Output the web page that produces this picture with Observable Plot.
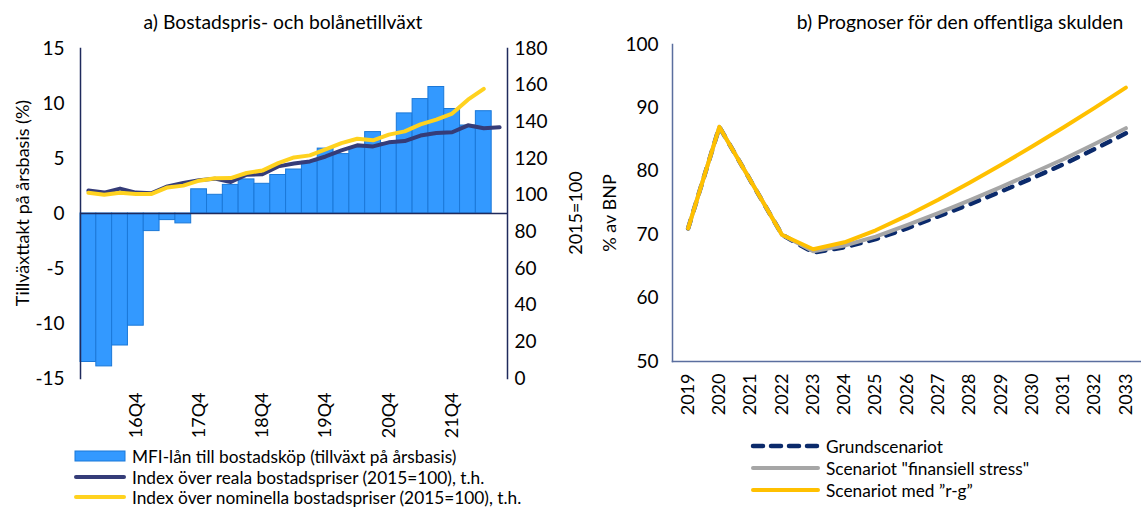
<!DOCTYPE html>
<html>
<head>
<meta charset="utf-8">
<script src="https://cdn.jsdelivr.net/npm/d3@7"></script>
<script src="https://cdn.jsdelivr.net/npm/@observablehq/plot@0.6"></script>
<style>
  html, body { margin: 0; padding: 0; background: #fff; }
  #root { position: relative; width: 1141px; height: 510px; overflow: hidden; font-family: Lato, "Open Sans", sans-serif; color: #000; }
  .title { font-size: 19.3px; white-space: nowrap; line-height: 24px; }
  .rot { position: absolute; white-space: nowrap; transform: translate(-50%, -50%) rotate(-90deg); font-size: 18px; }
  .leg { position: absolute; font-size: 17.3px; white-space: nowrap; display: flex; align-items: center; height: 21px; }
  .leg svg { margin-right: 6px; }
  svg text { font-family: Lato, "Open Sans", sans-serif; }
</style>
</head>
<body>
<div id="root"></div>
<script>
// ---------- Data: panel a ----------
const quarters = ["16Q1","16Q2","16Q3","16Q4","17Q1","17Q2","17Q3","17Q4","18Q1","18Q2","18Q3","18Q4",
  "19Q1","19Q2","19Q3","19Q4","20Q1","20Q2","20Q3","20Q4","21Q1","21Q2","21Q3","21Q4","22Q1","22Q2","22Q3"];
const mfiLoans = [-13.5,-13.9,-12.0,-10.2,-1.6,-0.6,-0.9,2.2,1.7,2.6,3.1,2.7,3.5,4.0,4.7,5.9,5.4,6.0,7.4,6.4,9.1,10.4,11.5,9.5,8.0,9.3,null];
const realIndex = [102.5,101.4,103.6,101.4,101.1,104.8,106.7,108.2,109.0,107.2,111.2,111.4,115.7,117.3,118.4,121.1,124.4,127.2,126.6,128.8,129.5,132.5,133.9,134.3,138.1,136.5,137.0];
const nominalIndex = [101.3,100.2,101.3,100.7,100.7,104.2,105.2,107.9,109.2,109.3,112.1,113.4,117.5,120.6,121.7,125.0,128.4,130.8,129.9,133.0,134.8,138.6,141.2,144.5,152.1,158.0,null];
const leftTicks = [-15,-10,-5,0,5,10,15];
const rightTicks = [0,20,40,60,80,100,120,140,160,180];
const labeledQuarters = ["16Q4","17Q4","18Q4","19Q4","20Q4","21Q4"];

// ---------- Data: panel b ----------
const years = ["2019","2020","2021","2022","2023","2024","2025","2026","2027","2028","2029","2030","2031","2032","2033"];
const grund =   [71.0,87.0,78.5,70.0,67.2,68.0,69.3,71.0,72.9,74.8,76.8,78.9,81.1,83.5,86.0];
const stress =  [71.0,87.0,78.5,70.0,67.4,68.3,69.7,71.5,73.4,75.4,77.5,79.7,81.9,84.3,86.8];
const rg =      [71.0,87.0,78.5,70.0,67.7,68.8,70.7,73.0,75.5,78.2,81.0,83.9,86.9,90.0,93.2];
const debtTicks = [50,60,70,80,90,100];

const C = {
  bar: "#3399ff", barEdge: "#1b78d8", real: "#353c78", nominal: "#ffd21f",
  grund: "#0b2a6b", stress: "#a6a6a6", rg: "#ffc000", axisA: "#1f2a5c", axisB: "#5a6e9e"
};

const root = document.getElementById("root");
function place(el, left, top) { el.style.position = "absolute"; el.style.left = left + "px"; el.style.top = top + "px"; root.appendChild(el); }

const barRows = quarters.map((q, i) => ({q, v: mfiLoans[i]})).filter(d => d.v != null);
const realRows = quarters.map((q, i) => ({q, v: realIndex[i]})).filter(d => d.v != null);
const nomRows = quarters.map((q, i) => ({q, v: nominalIndex[i]})).filter(d => d.v != null);

const W1 = 580, H1 = 440;
const m1 = {marginLeft: 80, marginRight: 73, marginTop: 48, marginBottom: 62};

// Panel a: bars + left axis
const pa = Plot.plot({
  width: W1, height: H1, ...m1,
  style: {fontSize: "19px", background: "transparent", overflow: "visible"},
  x: {type: "band", domain: quarters, padding: 0, round: false},
  y: {domain: [-15, 15]},
  marks: [
    Plot.barY(barRows, {x: "q", y: "v", fill: C.bar, stroke: C.barEdge, strokeWidth: 1}),
    Plot.ruleY([0], {stroke: C.axisA, strokeWidth: 1.3}),
    Plot.frame({anchor: "left", stroke: C.axisA, strokeWidth: 1.5}),
    Plot.frame({anchor: "right", stroke: C.axisA, strokeWidth: 1.5}),
    Plot.axisY({ticks: leftTicks, tickSize: 0, tickPadding: 16, label: null, tickFormat: d => String(d)}),
    Plot.axisX({tickSize: 0, tickRotate: -90, tickPadding: 14, label: null, fontSize: 18,
      tickFormat: d => labeledQuarters.includes(d) ? d : ""})
  ]
});
place(pa, 0, 0);

// Panel a: lines + right axis (overlay)
const pl = Plot.plot({
  width: W1, height: H1, ...m1,
  style: {fontSize: "19px", background: "transparent", overflow: "visible"},
  x: {type: "point", domain: quarters, padding: 0.5, round: false, axis: null},
  y: {domain: [0, 180]},
  marks: [
    Plot.lineY(realRows, {x: "q", y: "v", stroke: C.real, strokeWidth: 4, strokeLinejoin: "round"}),
    Plot.lineY(nomRows, {x: "q", y: "v", stroke: C.nominal, strokeWidth: 4, strokeLinejoin: "round"}),
    Plot.axisY({anchor: "right", ticks: rightTicks, tickSize: 0, tickPadding: 7, label: null, tickFormat: d => String(d)})
  ]
});
place(pl, 0, 0);

// Panel b
const W2 = 551, H2 = 440;
const pb = Plot.plot({
  width: W2, height: H2, marginLeft: 82, marginRight: 0, marginTop: 44, marginBottom: 79,
  style: {fontSize: "19px", background: "transparent", overflow: "visible"},
  x: {type: "point", domain: years, padding: 0.5, round: false},
  y: {domain: [50, 100]},
  marks: [
    Plot.frame({anchor: "left", stroke: C.axisB, strokeWidth: 1.5}),
    Plot.frame({anchor: "bottom", stroke: C.axisB, strokeWidth: 1.5}),
    Plot.lineY(years.map((y, i) => ({year: y, v: grund[i]})), {x: "year", y: "v", stroke: C.grund, strokeWidth: 4.5, strokeDasharray: "9,9", strokeLinecap: "round"}),
    Plot.lineY(years.map((y, i) => ({year: y, v: stress[i]})), {x: "year", y: "v", stroke: C.stress, strokeWidth: 4}),
    Plot.lineY(years.map((y, i) => ({year: y, v: rg[i]})), {x: "year", y: "v", stroke: C.rg, strokeWidth: 4, strokeLinejoin: "round"}),
    Plot.axisY({ticks: debtTicks, tickSize: 0, tickPadding: 14, label: null, tickFormat: d => String(d)}),
    Plot.axisX({tickSize: 0, tickRotate: -90, tickPadding: 12, label: null, fontSize: 18})
  ]
});
place(pb, 590, 0);

// Titles
function text(cls, str, left, top, extra) {
  const d = document.createElement("div"); d.className = cls; d.textContent = str;
  place(d, left, top); if (extra) Object.assign(d.style, extra); return d;
}
text("title", "a) Bostadspris- och bolånetillväxt", 283, 10, {transform: "translateX(-50%)"});
text("title", "b) Prognoser för den offentliga skulden", 960, 10, {transform: "translateX(-50%)"});
text("rot", "Tillväxttakt på årsbasis (%)", 22, 203);
text("rot", "2015=100", 575, 213);
text("rot", "% av BNP", 609, 213);

// Legends
function legendItem(swatch, label, left, cy) {
  const d = document.createElement("div"); d.className = "leg";
  d.innerHTML = swatch + "<span>" + label + "</span>";
  place(d, left, cy - 10.5);
}
const sw = (inner, w) => `<svg width="${w}" height="14" viewBox="0 0 ${w} 14">${inner}</svg>`;
legendItem(sw(`<rect x="1" y="2" width="50" height="10" fill="${C.bar}" stroke="${C.barEdge}" stroke-width="1"/>`, 52), "MFI-lån till bostadsköp (tillväxt på årsbasis)", 74, 456);
legendItem(sw(`<line x1="2" y1="7" x2="50" y2="7" stroke="${C.real}" stroke-width="4" stroke-linecap="round"/>`, 52), "Index över reala bostadspriser (2015=100), t.h.", 74, 477);
legendItem(sw(`<line x1="2" y1="7" x2="50" y2="7" stroke="${C.nominal}" stroke-width="4" stroke-linecap="round"/>`, 52), "Index över nominella bostadspriser (2015=100), t.h.", 74, 497);

legendItem(sw(`<line x1="3" y1="7" x2="68" y2="7" stroke="${C.grund}" stroke-width="4.5" stroke-dasharray="10,8" stroke-linecap="round"/>`, 70), "Grundscenariot", 750, 446);
legendItem(sw(`<line x1="3" y1="7" x2="68" y2="7" stroke="${C.stress}" stroke-width="4" stroke-linecap="round"/>`, 70), "Scenariot \"finansiell stress\"", 750, 468);
legendItem(sw(`<line x1="3" y1="7" x2="68" y2="7" stroke="${C.rg}" stroke-width="4" stroke-linecap="round"/>`, 70), "Scenariot med ”r-g”", 750, 490);
</script>
</body>
</html>
